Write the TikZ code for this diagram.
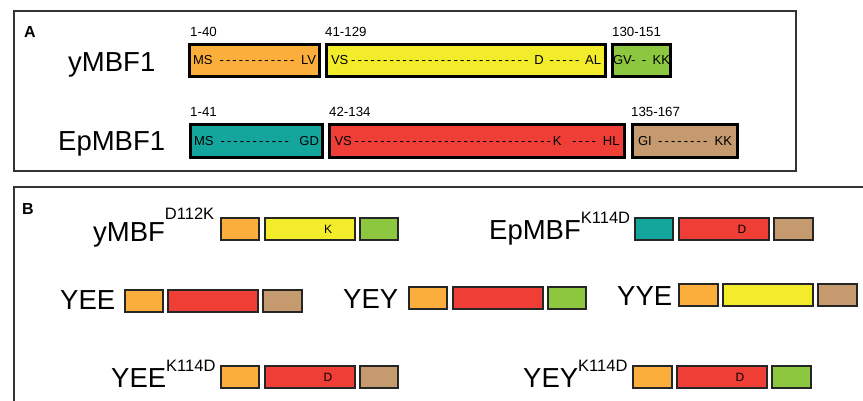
\documentclass[tikz,border=0pt]{standalone}
\usepackage{fontspec}
\setmainfont{Liberation Sans}
\definecolor{cOr}{HTML}{FBAE3C}
\definecolor{cYe}{HTML}{F3EC2A}
\definecolor{cGr}{HTML}{8DC63F}
\definecolor{cTe}{HTML}{14A69C}
\definecolor{cRe}{HTML}{EE3E36}
\definecolor{cTa}{HTML}{C59A6E}
\definecolor{frame}{HTML}{333333}
\newcommand\dfill{\leaders\hbox to 6.4pt{\hss-\hss}\hfill}
\newcommand\dfix[1]{\leaders\hbox to 6.4pt{\hss-\hss}\hskip #1\relax}
\newcommand\bx[8]{\node[#8, fill=#2, minimum width={(#5-#3)*1pt}, minimum height={(#6-#4)*1pt}] (#1) at ({(#3+#5)/2},{(#4+#6)/2}) {#7};}
\tikzset{
  boxA/.style={draw=black, line width=2.8pt, inner sep=0pt, font=\fontsize{13}{15}\selectfont},
  boxB/.style={draw=black!85, line width=1.2pt, inner sep=0pt, font=\fontsize{12}{14}\selectfont},
  big/.style={anchor=base west, inner sep=0pt, font=\fontsize{27.5}{31}\selectfont},
  rng/.style={anchor=base west, inner sep=0pt, font=\fontsize{13.3}{15}\selectfont},
  panel/.style={anchor=center, inner sep=0pt, font=\fontsize{16}{18}\selectfont\bfseries}
}
\newcommand\sups[2]{\raisebox{#1}{\fontsize{16.5}{19}\selectfont #2}}
\begin{document}
\begin{tikzpicture}[x=1pt,y=-1pt]
\useasboundingbox (0,0) rectangle (863,401);
% panel frames
\draw[frame, line width=1.2pt] (14,11) rectangle (796,171);
\draw[frame, line width=1.2pt] (14,401) -- (14,187) -- (863,187);
\node[panel] (pA) at (30,31.5) {A};
\node[panel] (pB) at (28,208.5) {B};
% Panel A
\node[big] (yl) at (68,72) {yMBF1};
\node[big] (el) at (58,151) {EpMBF1};
\node[rng] (r1) at (190,37) {1-40};
\node[rng] (r2) at (325,37) {41-129};
\node[rng] (r3) at (612,37) {130-151};
\node[rng] (r4) at (190,117) {1-41};
\node[rng] (r5) at (329,117) {42-134};
\node[rng] (r6) at (631,117) {135-167};
\bx{ya}{cOr}{189.4}{44.4}{319.6}{76.6}{\hbox to 123pt{MS\ \dfill LV}}{boxA}
\bx{yb}{cYe}{326.4}{44.4}{605.6}{76.6}{\hbox to 270pt{VS\dfill D\ \dfix{34pt}\ AL}}{boxA}
\bx{yc}{cGr}{612.4}{44.4}{670.6}{76.6}{\hbox to 57pt{GV-\hfil-\hfil KK}}{boxA}
\bx{ea}{cTe}{190.4}{124.4}{322.6}{157.6}{\hbox to 125pt{MS\ \dfill\ GD}}{boxA}
\bx{eb}{cRe}{329.4}{124.4}{624.6}{157.6}{\hbox to 285pt{VS\dfill K\ \dfix{34pt}\ HL}}{boxA}
\bx{ec}{cTa}{632.4}{124.4}{737.6}{157.6}{\hbox to 94pt{GI\dfill\ KK}}{boxA}
% Panel B row 1
\node[big] (l1) at (93,241) {yMBF\sups{22pt}{D112K}};
\bx{a1}{cOr}{221}{218}{259}{240}{}{boxB}
\bx{a2}{cYe}{265}{218}{355}{240}{\hspace*{36pt}K}{boxB}
\bx{a3}{cGr}{360}{218}{398}{240}{}{boxB}
\node[big] (l2) at (489,240) {EpMBF\sups{17pt}{K114D}};
\bx{b1}{cTe}{635}{218}{673}{240}{}{boxB}
\bx{b2}{cRe}{679}{218}{769}{240}{\hspace*{36pt}D}{boxB}
\bx{b3}{cTa}{774}{218}{813}{240}{}{boxB}
% row 2
\node[big] (l3) at (60,309) {YEE};
\bx{c1}{cOr}{125}{290}{163}{312}{}{boxB}
\bx{c2}{cRe}{168}{290}{258}{312}{}{boxB}
\bx{c3}{cTa}{263}{290}{302}{312}{}{boxB}
\node[big] (l4) at (343,308) {YEY};
\bx{d1}{cOr}{409}{287}{447}{309}{}{boxB}
\bx{d2}{cRe}{453}{287}{543}{309}{}{boxB}
\bx{d3}{cGr}{548}{287}{586}{309}{}{boxB}
\node[big] (l5) at (617,305) {YYE};
\bx{f1}{cOr}{679}{284}{718}{306}{}{boxB}
\bx{f2}{cYe}{723}{284}{813}{306}{}{boxB}
\bx{f3}{cTa}{818}{284}{857}{306}{}{boxB}
% row 3
\node[big] (l6) at (111,387) {YEE\sups{16pt}{K114D}};
\bx{g1}{cOr}{221}{366}{259}{388}{}{boxB}
\bx{g2}{cRe}{265}{366}{355}{388}{\hspace*{36pt}D}{boxB}
\bx{g3}{cTa}{360}{366}{398}{388}{}{boxB}
\node[big] (l7) at (523,387) {YEY\sups{16pt}{K114D}};
\bx{h1}{cOr}{633}{366}{672}{388}{}{boxB}
\bx{h2}{cRe}{677}{366}{767}{388}{\hspace*{36pt}D}{boxB}
\bx{h3}{cGr}{772}{366}{811}{388}{}{boxB}
\end{tikzpicture}
\end{document}
